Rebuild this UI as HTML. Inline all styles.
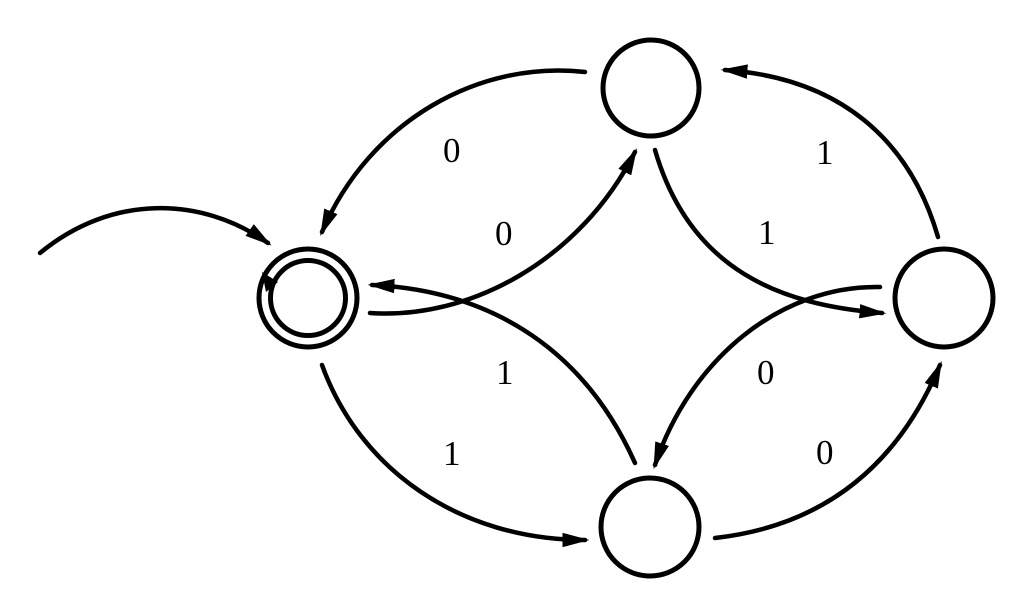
<!DOCTYPE html>
<html><head><meta charset="utf-8"><style>
html,body{margin:0;padding:0;background:#fff;width:1024px;height:613px;overflow:hidden}
svg{display:block}
text{font-family:"Liberation Serif","Times New Roman",Times,serif;font-size:35px;fill:#000}
</style></head><body>
<svg width="1024" height="613" viewBox="0 0 1024 613" xmlns="http://www.w3.org/2000/svg">
<defs>
<marker id="a" markerWidth="6" markerHeight="3.2" refX="5" refY="1.6" orient="auto" markerUnits="strokeWidth">
<path d="M0,0 L6,1.6 L0,3.2 z" fill="#000"/>
</marker>
</defs>
<g fill="none" stroke="#000" stroke-width="5">
<circle cx="308" cy="298" r="49"/>
<circle cx="308" cy="298" r="37.5"/>
<circle cx="651" cy="88" r="48"/>
<circle cx="944" cy="298" r="49"/>
<circle cx="650" cy="527" r="49"/>
</g>
<g fill="none" stroke="#000" stroke-width="4.5" stroke-linecap="round" marker-end="url(#a)">
<path d="M40,253 C110,195 200,195 268,243"/>
<path d="M585,72 C480,60 370,120 322,232"/>
<path d="M370,313 C470,320 580,260 635,152"/>
<path d="M655,150 C690,270 780,305 882,313"/>
<path d="M938,237 C910,140 840,78 725,70"/>
<path d="M880,287 C780,285 690,360 655,465"/>
<path d="M715,538 C830,525 900,460 940,365"/>
<path d="M635,463 C580,340 480,290 372,285"/>
<path d="M322,365 C360,470 460,540 585,540"/>
</g>
<path d="M262,272 L278,282 L266,292 z" fill="#000"/>
<text x="443" y="162">0</text>
<text x="495" y="245">0</text>
<text x="758" y="244">1</text>
<text x="816" y="164">1</text>
<text x="757" y="384">0</text>
<text x="816" y="464">0</text>
<text x="496" y="384">1</text>
<text x="443" y="465">1</text>
</svg>
</body></html>
